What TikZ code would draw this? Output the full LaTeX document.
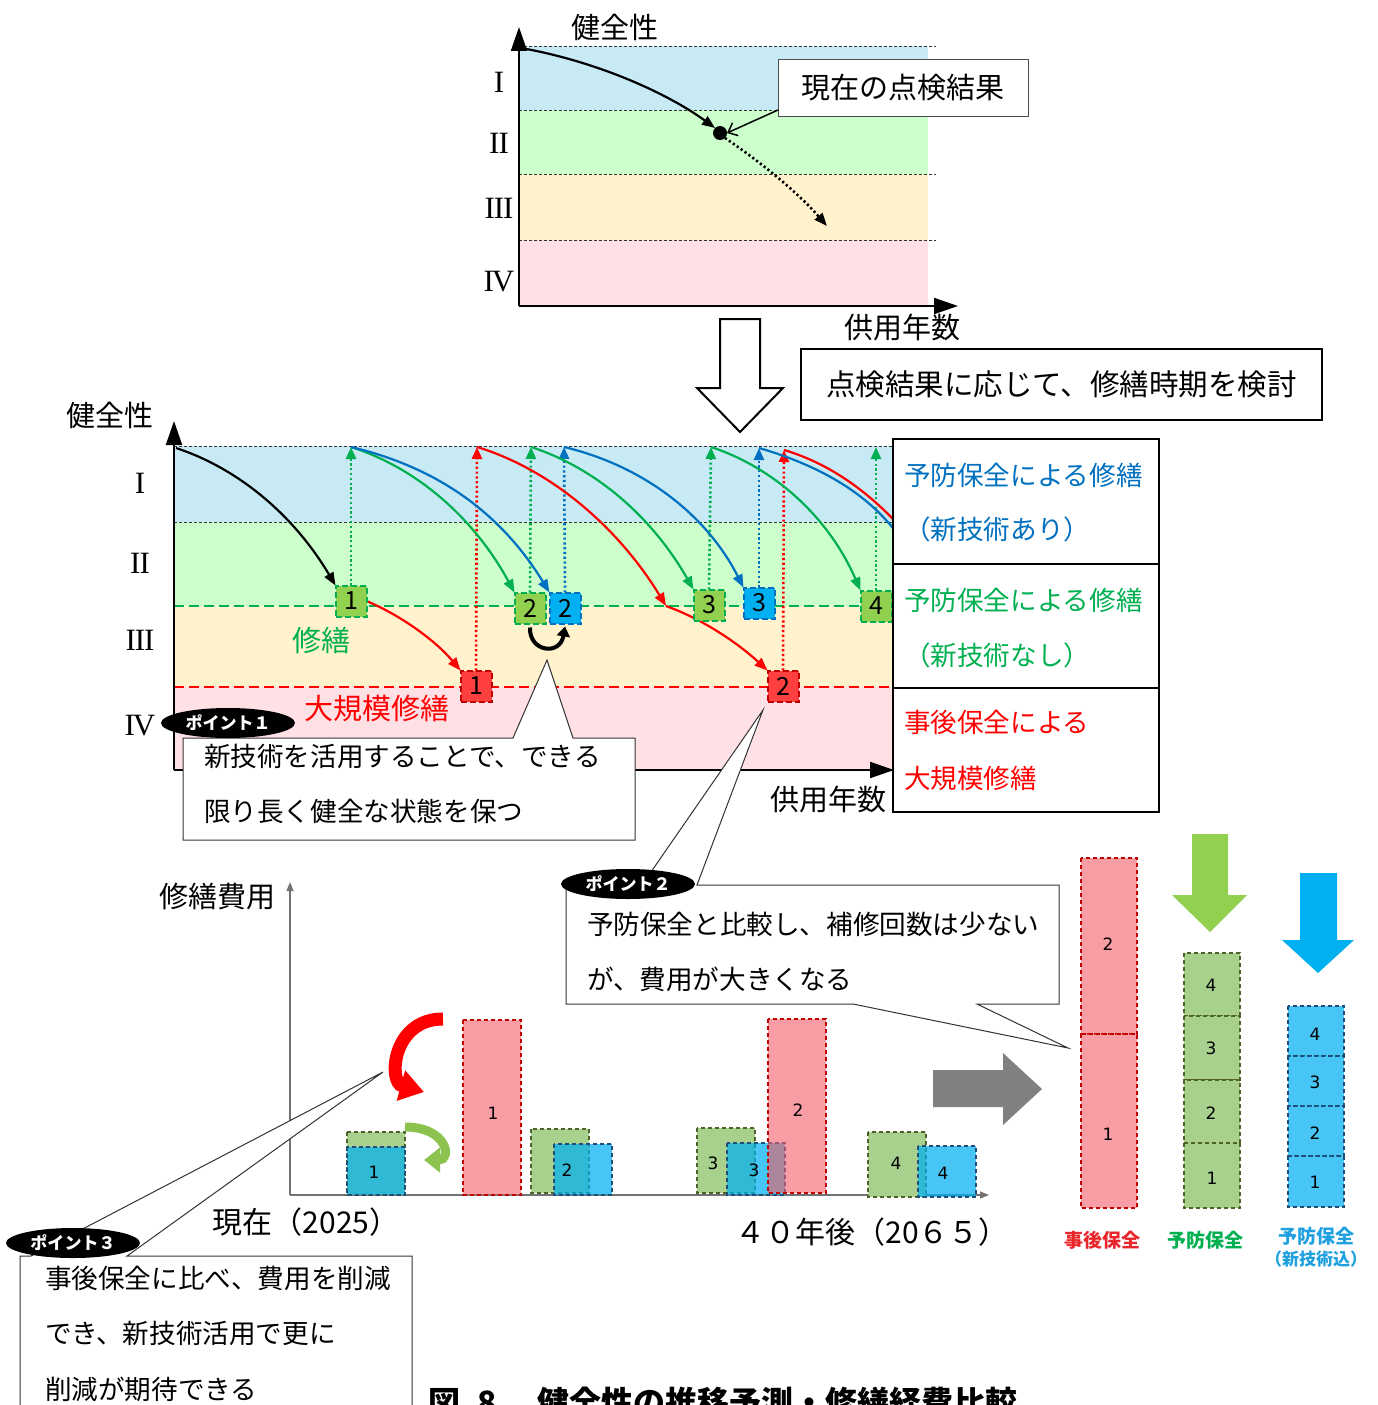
\documentclass[tikz,border=0pt]{standalone}
\usepackage{fontspec}
\setmainfont{Noto Sans CJK JP}
\newfontfamily\romanfont{Liberation Serif}
\newfontfamily\numfont{DejaVu Sans}
\usetikzlibrary{arrows.meta,shapes.geometric}
\definecolor{bandB}{HTML}{C7EAF5}
\definecolor{bandG}{HTML}{CCFFCC}
\definecolor{bandY}{HTML}{FFF2CC}
\definecolor{bandP}{HTML}{FFE1E5}
\definecolor{lineG}{HTML}{00B050}
\definecolor{lineB}{HTML}{0070C0}
\definecolor{lineR}{HTML}{FF0000}
\definecolor{sqG}{HTML}{92D050}
\definecolor{sqB}{HTML}{00B0F0}
\definecolor{sqR}{HTML}{FF4040}
\definecolor{sqRb}{HTML}{C00000}
\definecolor{barG}{HTML}{A9D18E}
\definecolor{barB}{HTML}{00B0F0}
\definecolor{barR}{HTML}{F25C66}
\definecolor{arrG}{HTML}{92D050}
\definecolor{arrB}{HTML}{00B0F0}
\definecolor{arrGray}{HTML}{808080}
\definecolor{curlG}{HTML}{8CC24E}
\definecolor{bdG}{HTML}{4F6228}
\definecolor{bdB}{HTML}{1F4E79}
\definecolor{bdR}{HTML}{C00000}
\definecolor{labR}{HTML}{E8262B}
\definecolor{labB}{HTML}{1EA0E0}
\begin{document}
\begin{tikzpicture}[x=1pt,y=-1pt,
  every node/.style={inner sep=0pt, outer sep=0pt},
  jt/.style={font=\fontsize{29}{29}\selectfont},
  jm/.style={font=\fontsize{26.6}{26.6}\selectfont},
  rn/.style={font=\romanfont\fontsize{31}{31}\selectfont},
  axis/.style={line width=2pt, -{Triangle[length=24pt,width=16pt]}},
  axisthin/.style={draw=black!55, line width=1.2pt, -{Triangle[length=9pt,width=7pt]}},
  carrow/.style={line width=2.2pt, -{Triangle[length=13pt,width=10pt]}},
  vdot/.style={line width=2.6pt, dash pattern=on 2.2pt off 2.6pt, -{Triangle[length=12pt,width=10pt]}},
  bandline/.style={line width=0.8pt, dash pattern=on 3pt off 2pt, black!80},
  sq/.style={minimum size=31pt, line width=2pt, dash pattern=on 6pt off 3pt, font=\fontsize{25}{25}\selectfont},
  sqg/.style={sq, fill=sqG, draw=lineG},
  sqb/.style={sq, fill=sqB, draw=lineB},
  sqr/.style={sq, fill=sqR, draw=sqRb},
  bar/.style={line width=1.5pt, dash pattern=on 4pt off 3pt},
  gbar/.style={bar, fill=barG, draw=bdG},
  bbar/.style={bar, fill=barB, fill opacity=0.72, draw=bdB},
  rbar/.style={bar, fill=barR, fill opacity=0.6, draw=bdR},
  barnum/.style={font=\numfont\fontsize{17}{17}\selectfont},
  pointoval/.style={ellipse, fill=black, minimum width=134pt, minimum height=30pt, text=white, font=\bfseries\fontsize{17}{17}\selectfont},
  callout/.style={draw=black!80, fill=white, line width=1pt},
  legbox/.style={draw=black, line width=2.5pt, fill=white},
  botlab/.style={font=\bfseries\fontsize{19}{19}\selectfont},
]
\useasboundingbox (0,0) rectangle (1378,1405);
\fill[white] (0,0) rectangle (1378,1405);

% ================= top chart =================
\fill[bandB] (519,46) rectangle (928,110);
\fill[bandG] (519,110) rectangle (928,174);
\fill[bandY] (519,174) rectangle (928,240);
\fill[bandP] (519,240) rectangle (928,306);
\foreach \yy in {46,110,174,240} \draw[bandline] (519,\yy) -- (936,\yy);
\coordinate (tO) at (519,306);
\coordinate (tY) at (519,27);
\coordinate (tX) at (958,306);
\draw[axis] (tO) -- (tY);
\draw[axis] (tO) -- (tX);
\node[jt] (tH) at (615,27) {健全性};
\node[jt] (tT) at (902,327) {供用年数};
\node[rn] (tr1) at (499,82) {I};
\node[rn] (tr2) at (499,143) {I\kern-1ptI};
\node[rn] (tr3) at (499,208) {I\kern-1ptI\kern-1ptI};
\node[rn] (tr4) at (499,282) {I\kern-2ptV};
\node[circle, fill=black, minimum size=14pt] (dot) at (720,133) {};
\coordinate (tS) at (521,48);
\coordinate (tE) at (827,226);
\draw[carrow] (tS) .. controls (600,62) and (670,95) .. (dot.north west);
\draw[line width=2.6pt, dash pattern=on 2.2pt off 2.6pt, -{Triangle[length=13pt,width=10pt]}] (dot.south east) .. controls (765,165) and (800,195) .. (tE);
\node[draw=black!70, line width=1pt, fill=white, minimum width=250pt, minimum height=56pt, jt] (now) at (903,88) {現在の点検結果};
\draw[line width=1.5pt, -{Straight Barb[length=8pt,width=14pt]}] ([yshift=6pt]now.south west) -- (dot.east);

% big hollow arrow
\draw[line width=2pt, fill=white] (720,319) -- (760,319) -- (760,388) -- (783,388) -- (740,432) -- (697,388) -- (720,388) -- cycle;
\node[legbox, minimum width=521pt, minimum height=71pt, font=\fontsize{29.5}{29.5}\selectfont] (plan) at (1061.5,384.5) {点検結果に応じて、修繕時期を検討};

% ================= middle chart =================
\fill[bandB] (174,446) rectangle (893,522);
\fill[bandG] (174,522) rectangle (893,606);
\fill[bandY] (174,606) rectangle (893,687);
\fill[bandP] (174,687) rectangle (893,770);
\draw[bandline] (174,446) -- (893,446);
\draw[bandline] (174,522) -- (893,522);
\draw[lineG, line width=2.5pt, dash pattern=on 10pt off 5pt] (174,606) -- (893,606);
\draw[lineR, line width=2.5pt, dash pattern=on 10pt off 5pt] (174,687) -- (893,687);
\coordinate (mO) at (174,770);
\coordinate (mY) at (174,421);
\coordinate (mX) at (894,770);
\draw[axis] (mO) -- (mY);
\draw[axis] (mO) -- (mX);
\node[jt] (mH) at (110,415) {健全性};
\node[jt] (mT) at (828,799) {供用年数};
\node[rn] (mr1) at (140,483) {I};
\node[rn] (mr2) at (140,563) {I\kern-1ptI};
\node[rn] (mr3) at (140,640) {I\kern-1ptI\kern-1ptI};
\node[rn] (mr4) at (140,726) {I\kern-2ptV};
\node[jt, text=lineG] (lblS) at (321,640) {修繕};
\node[jt, text=lineR] (lblL) at (377,708) {大規模修繕};

\coordinate (mS) at (176,448);
\coordinate (tg1) at (351,447);
\coordinate (tr1c) at (477,447);
\coordinate (tg2) at (531,447);
\coordinate (tb2) at (564,447);
\coordinate (tg3) at (711,447);
\coordinate (tb3) at (759,448);
\coordinate (tr2c) at (784,450);
\coordinate (tg4) at (876,447);
\coordinate (rm) at (666,606);
\coordinate (xb) at (905,545);
\coordinate (xr) at (905,532);

\node[sqg] (g1) at (351,601) {1};
\node[sqg] (g2) at (530,608) {2};
\node[sqb] (b2) at (565,608) {2};
\node[sqg] (g3) at (709,605) {3};
\node[sqb] (b3) at (759,603) {3};
\node[sqg] (g4) at (876,606) {4};
\node[sqr] (r1) at (476,686) {1};
\node[sqr] (r2) at (783,686) {2};

% vertical dotted arrows
\draw[vdot, lineG] (g1.north) -- (tg1);
\draw[vdot, lineR] (r1.north) -- (tr1c);
\draw[vdot, lineG] (g2.north) -- (tg2);
\draw[vdot, lineB] (b2.north) -- (tb2);
\draw[vdot, lineG] (g3.north) -- (tg3);
\draw[vdot, lineB] (b3.north) -- (tb3);
\draw[vdot, lineR] (r2.north) -- (tr2c);
\draw[vdot, lineG] (g4.north) -- (tg4);

% deterioration curves
\draw[carrow, black] (mS) .. controls (240,469) and (295,517) .. (g1.north west);
\draw[carrow, lineG] (tg1) .. controls (417,468) and (474,518) .. (g2.north west);
\draw[carrow, lineB] (tg1) .. controls (440,468) and (502,515) .. (b2.north west);
\draw[carrow, lineR] (g1.east) .. controls (400,615) and (435,640) .. (r1.north west);
\draw[carrow, lineR] (tr1c) .. controls (553,470) and (620,530) .. (rm);
\draw[carrow, lineR] (rm) .. controls (705,620) and (740,645) .. (r2.north west);
\draw[carrow, lineG] (tg2) .. controls (596,468) and (652,517) .. (g3.north west);
\draw[carrow, lineB] (tb2) .. controls (640,465) and (705,512) .. (b3.north west);
\draw[carrow, lineG] (tg3) .. controls (775,468) and (829,518) .. (g4.north west);
\draw[line width=2.2pt, lineB] (tb3) .. controls (835,470) and (880,505) .. (xb);
\draw[line width=2.2pt, lineR] (tr2c) .. controls (835,465) and (875,498) .. (xr);

% swap arrow
\draw[line width=4pt, -{Triangle[length=10pt,width=13pt]}] ([yshift=-4pt]g2.south) .. controls (529,652) and (560,656) .. ([yshift=-3pt]b2.south);

% redraw squares above curves
\node[sqg] at (g1) {1};
\node[sqg] at (g2) {2};
\node[sqb] at (b2) {2};
\node[sqg] at (g3) {3};
\node[sqb] at (b3) {3};
\node[sqr] at (r1) {1};
\node[sqr] at (r2) {2};

% point 1 callout
\draw[callout] (183,738) -- (513,738) -- (547,660) -- (573,738) -- (635,738) -- (635,840) -- (183,840) -- cycle;
\node[pointoval] (p1) at (228,723) {ポイント１};
\node[jm, anchor=west] (p1a) at (204,756) {新技術を活用することで、できる};
\node[jm, anchor=west] (p1b) at (204,811) {限り長く健全な状態を保つ};

% legend boxes
\node[legbox, minimum width=266pt, minimum height=125pt] (lg1) at (1026,501.5) {};
\node[legbox, minimum width=266pt, minimum height=124pt] (lg2) at (1026,626) {};
\node[legbox, minimum width=266pt, minimum height=124pt] (lg3) at (1026,750) {};
\node[jm, anchor=west, text=lineB] (l1a) at (904,475) {予防保全による修繕};
\node[jm, anchor=west, text=lineB] (l1b) at (904,529) {（新技術あり）};
\node[jm, anchor=west, text=lineG] (l2a) at (904,600) {予防保全による修繕};
\node[jm, anchor=west, text=lineG] (l2b) at (904,655) {（新技術なし）};
\node[jm, anchor=west, text=lineR] (l3a) at (904,722) {事後保全による};
\node[jm, anchor=west, text=lineR] (l3b) at (904,778) {大規模修繕};

% ================= bottom chart =================
\coordinate (bO) at (290,1195);
\coordinate (bY) at (290,882);
\coordinate (bX) at (989,1195);
\draw[axisthin] (bO) -- (bY);
\draw[axisthin] (bO) -- (bX);
\node[jt] (bH) at (217,897) {修繕費用};
\node[font=\fontsize{30}{30}\selectfont] (bNow) at (306,1222) {現在（2025）};
\node[font=\fontsize{30}{30}\selectfont] (bLater) at (872,1232) {４０年後（20６５）};

\draw[gbar] (347,1132) rectangle (405,1195);
\draw[bbar] (347,1147) rectangle (405,1195);
\draw[rbar] (463,1020) rectangle (521,1195);
\draw[gbar] (531,1129) rectangle (589,1193);
\draw[bbar] (554,1144) rectangle (612,1195);
\draw[gbar] (697,1128) rectangle (755,1193);
\draw[bbar] (727,1143) rectangle (785,1195);
\draw[rbar] (768,1019) rectangle (826,1193);
\draw[gbar] (868,1132) rectangle (926,1197);
\draw[bbar] (918,1146) rectangle (976,1197);
\node[barnum] (n1) at (374,1172) {1};
\node[barnum] (n2) at (493,1113) {1};
\node[barnum] (n3) at (567,1170) {2};
\node[barnum] (n4) at (713,1163) {3};
\node[barnum] (n5) at (754,1170) {3};
\node[barnum] (n6) at (798,1110) {2};
\node[barnum] (n7) at (896,1163) {4};
\node[barnum] (n8) at (943,1173) {4};

% curved arrows
\draw[red, line width=13pt, -{Triangle[length=24pt,width=30pt]}] (443,1019) .. controls (392,1019) and (388,1082) .. (424,1092);
\draw[curlG, line width=9pt, -{Triangle[length=16pt,width=24pt]}] (405,1127) .. controls (448,1127) and (452,1160) .. (424,1160);

% gray arrow
\fill[arrGray] (933,1070) -- (1003,1070) -- (1003,1053) -- (1042,1089) -- (1003,1125) -- (1003,1107) -- (933,1107) -- cycle;

% stacked bars
\draw[rbar] (1081,858) rectangle (1137,1034);
\draw[rbar] (1081,1034) rectangle (1137,1208);
\draw[gbar] (1184,953) rectangle (1240,1016);
\draw[gbar] (1184,1016) rectangle (1240,1080);
\draw[gbar] (1184,1080) rectangle (1240,1143);
\draw[gbar] (1184,1143) rectangle (1240,1208);
\draw[bbar] (1288,1006) rectangle (1344,1056);
\draw[bbar] (1288,1056) rectangle (1344,1106);
\draw[bbar] (1288,1106) rectangle (1344,1156);
\draw[bbar] (1288,1156) rectangle (1344,1207);
\node[barnum] (s1) at (1108,944) {2};
\node[barnum] (s2) at (1108,1134) {1};
\node[barnum] (s3) at (1211,985) {4};
\node[barnum] (s4) at (1211,1048) {3};
\node[barnum] (s5) at (1211,1113) {2};
\node[barnum] (s6) at (1212,1178) {1};
\node[barnum] (s7) at (1315,1034) {4};
\node[barnum] (s8) at (1315,1082) {3};
\node[barnum] (s9) at (1315,1133) {2};
\node[barnum] (s10) at (1315,1182) {1};
\fill[arrG] (1192,834) -- (1228,834) -- (1228,895) -- (1247,895) -- (1210,932) -- (1172,895) -- (1192,895) -- cycle;
\fill[arrB] (1300,873) -- (1337,873) -- (1337,940) -- (1354,940) -- (1318,973) -- (1282,940) -- (1300,940) -- cycle;
\node[botlab, text=labR] (k1) at (1102,1240) {事後保全};
\node[botlab, text=lineG] (k2) at (1205,1240) {予防保全};
\node[botlab, text=labB] (k3) at (1316,1236) {予防保全};
\node[botlab, text=labB, font=\bfseries\fontsize{17}{17}\selectfont] (k4) at (1316,1259) {（新技術込）};

% point 2 callout
\draw[callout] (566,885) -- (642,885) -- (763,710) -- (697,885) -- (1059,885) -- (1059,1004) -- (977,1004) -- (1068,1048) -- (853,1004) -- (566,1004) -- cycle;
\node[pointoval] (p2) at (628,884) {ポイント２};
\node[jm, anchor=west] (p2a) at (587,924) {予防保全と比較し、補修回数は少ない};
\node[jm, anchor=west] (p2b) at (587,979) {が、費用が大きくなる};

% point 3 callout
\draw[callout] (20,1256) -- (31,1256) -- (383,1072) -- (127,1256) -- (412,1256) -- (412,1420) -- (20,1420) -- cycle;
\node[pointoval] (p3) at (73,1243) {ポイント３};
\node[jm, anchor=west] (p3a) at (45,1278) {事後保全に比べ、費用を削減};
\node[jm, anchor=west] (p3b) at (45,1333) {でき、新技術活用で更に};
\node[jm, anchor=west] (p3c) at (45,1389) {削減が期待できる};

% caption (cut by the lower edge, as in the reference)
\node[anchor=base west, font=\bfseries\fontsize{32}{32}\selectfont] (cap) at (428,1414) {図\hspace{18pt}8\hspace{40pt}健全性の推移予測・修繕経費比較};
\end{tikzpicture}
\end{document}
